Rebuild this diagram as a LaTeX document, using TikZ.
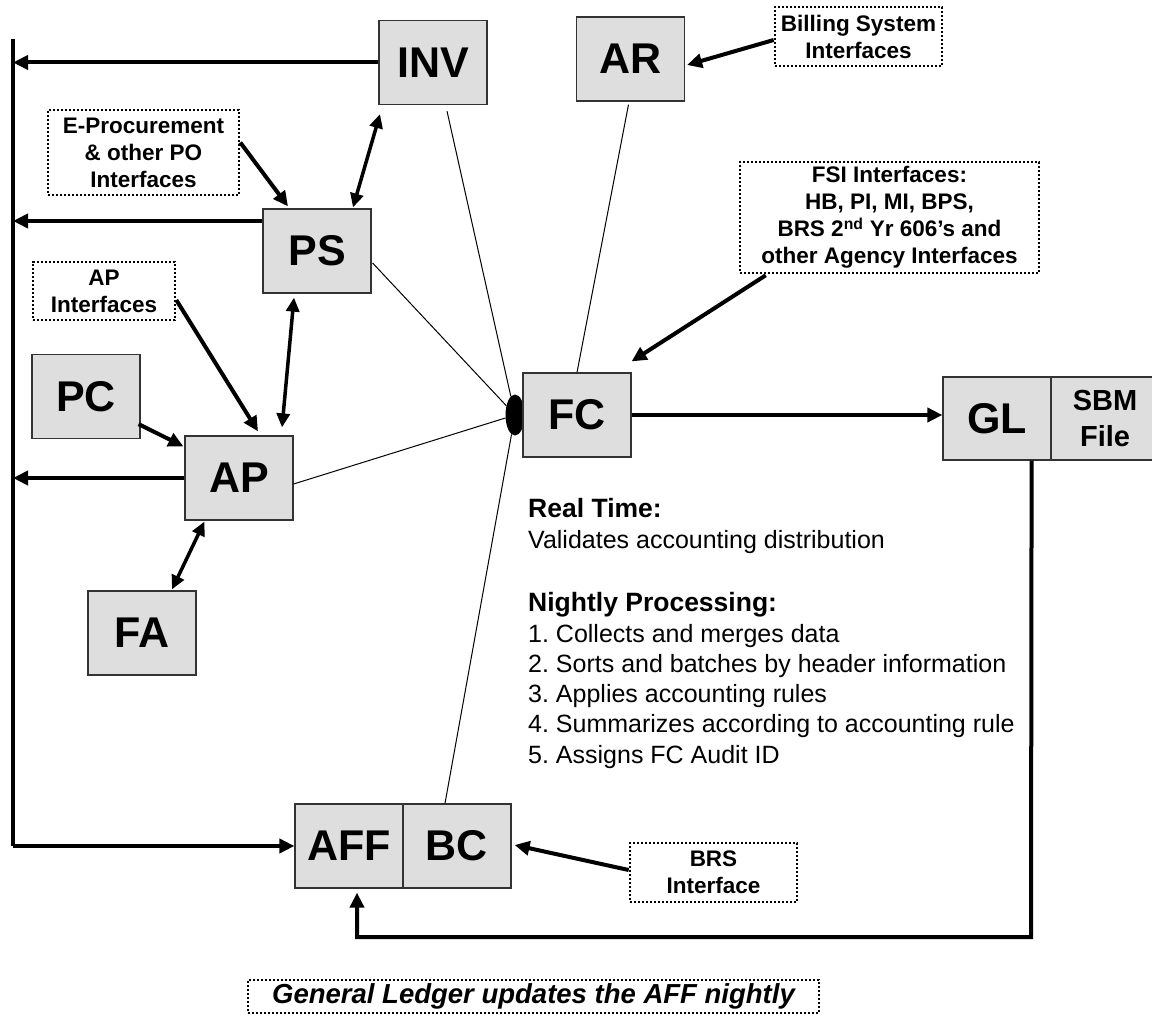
\documentclass[tikz,border=0pt]{standalone}
\usepackage{fontspec}
\setmainfont{Liberation Sans}
\usetikzlibrary{arrows.meta,calc,shapes.geometric}
\begin{document}
\frenchspacing
\begin{tikzpicture}[x=1pt,y=-1pt,
  sysbox/.style={draw=black!80, line width=1.2pt, fill=black!13, minimum width=108pt, minimum height=84pt, inner sep=0pt, font=\fontsize{43}{48}\selectfont\bfseries},
  dotbox/.style={draw=black, line width=2.6pt, dash pattern=on 2.4pt off 1.6pt, align=center, inner sep=0pt, font=\fontsize{22.5}{27}\selectfont\bfseries},
  bodytxt/.style={anchor=base west, inner sep=0pt, font=\fontsize{25}{30}\selectfont},
  headtxt/.style={anchor=base west, inner sep=0pt, font=\fontsize{26.5}{30}\selectfont\bfseries},
  thinline/.style={line width=1pt},
  arr/.style={line width=4pt, -{Triangle[length=15pt,width=14pt]}},
  darr/.style={line width=3.5pt, {Triangle[length=14pt,width=13pt]}-{Triangle[length=14pt,width=13pt]}},
  busline/.style={line width=3.5pt}
]
\useasboundingbox (0,0) rectangle (1152,1016);

% hub ellipse
\node[ellipse, fill=black, minimum width=19pt, minimum height=41pt, inner sep=0pt] (hub) at (515,415) {};

% system boxes
\node[sysbox] (INV) at (433,62.5) {INV};
\node[sysbox] (AR) at (630.5,59) {AR};
\node[sysbox] (PS) at (317,251) {PS};
\node[sysbox] (PC) at (86,396.5) {PC};
\node[sysbox] (AP) at (239,478) {AP};
\node[sysbox] (FA) at (142,633) {FA};
\node[sysbox] (FC) at (577,415) {FC};
\node[sysbox, minimum height=83pt] (GL) at (997,418.5) {GL};
\node[sysbox, minimum height=83pt, align=center, font=\fontsize{29}{36}\selectfont\bfseries] (SBM) at (1105,418.5) {SBM\\File};
\node[sysbox] (AFF) at (349,846) {AFF};
\node[sysbox] (BC) at (457,846) {BC};

% dotted interface boxes
\node[dotbox, minimum width=191pt, minimum height=85pt] (EP) at (143.5,152.5) {E-Procurement\\\& other PO\\Interfaces};
\node[dotbox, minimum width=142pt, minimum height=58pt] (API) at (104,291) {AP\\Interfaces};
\node[dotbox, minimum width=167pt, minimum height=59pt] (BILL) at (858.5,36.5) {Billing System\\Interfaces};
\node[dotbox, minimum width=299pt, minimum height=111pt] (FSI) at (889.5,217.5) {FSI Interfaces:\\HB, PI, MI, BPS,\\BRS 2\textsuperscript{nd} Yr 606’s and\\other Agency Interfaces};
\node[dotbox, minimum width=167pt, minimum height=59pt] (BRS) at (713.5,872.5) {BRS\\Interface};
\node[dotbox, minimum width=571pt, minimum height=33pt, font=\fontsize{27.5}{30}\selectfont\bfseries\itshape] (note) at (533.5,996.5) {General Ledger updates the AFF nightly};

% text block
\node[headtxt] (rt) at (528,517) {Real Time:};
\node[bodytxt] (rt1) at (528,548) {Validates accounting distribution};
\node[headtxt] (np) at (528,611) {Nightly Processing:};
\node[bodytxt] (np1) at (528,642) {1. Collects and merges data};
\node[bodytxt] (np2) at (528,672) {2. Sorts and batches by header information};
\node[bodytxt] (np3) at (528,702) {3. Applies accounting rules};
\node[bodytxt] (np4) at (528,732) {4. Summarizes according to accounting rule};
\node[bodytxt] (np5) at (528,763) {5. Assigns FC Audit ID};

% helper coordinates
\coordinate (bus) at (13,39);
\coordinate (ret) at (1031,937);
\coordinate (afftip) at ($(AFF.south)+(8,4)$);
\coordinate (psout) at ($(PS.west)+(0,-30)$);

% thin lines to the hub
\draw[thinline] ($(INV.south)+(14,6)$) -- (hub);
\draw[thinline] ($(PS.east)+(1,12)$) -- (hub);
\draw[thinline] ($(AP.east)+(0,6)$) -- (hub);
\draw[thinline] ($(BC.north)+(-12,0)$) -- (hub);
\draw[thinline] ($(AR.south)+(-2,3)$) -- (FC.north);

% bus and arrows to it
\draw[busline] (bus) -- (bus |- AFF.west);
\draw[arr] (bus |- AFF.west) -- (AFF.west);
\draw[arr] (INV.west) -- (INV.west -| bus);
\draw[arr] (psout) -- (psout -| bus);
\draw[arr] (AP.west) -- (AP.west -| bus);

% interface arrows
\draw[arr] ($(EP.east)+(0,-10)$) -- ($(PS.north)+(-29,-2)$);
\draw[arr] ($(API.east)+(0,9)$) -- ($(AP.north)+(19,-4)$);
\draw[arr] ($(PC.south east)+(-2,-15)$) -- ($(AP.north west)+(-1,11)$);
\draw[arr] ($(BILL.west)+(0,3.5)$) -- ($(AR.east)+(2,6)$);
\draw[arr] ($(FSI.south west)+(27,1)$) -- ($(FC.north east)+(0,-11)$);
\draw[arr] ($(BRS.west)+(0,-2.5)$) -- ($(BC.east)+(3,-1)$);

% double arrows
\draw[darr] ($(PS.north)+(36,-1)$) -- ($(INV.south)+(-53,9)$);
\draw[darr] ($(PS.south)+(-23,4)$) -- ($(AP.north)+(43,-8)$);
\draw[darr] ($(AP.south west)+(20,1)$) -- ($(FA.north)+(30,-1)$);

% FC to GL and return
\draw[arr] (FC.east) -- (FC.east -| GL.west);
\draw[arr] ($(GL.south east)+(-20,0)$) -- (ret) -- (ret -| afftip) -- (afftip);
\end{tikzpicture}
\end{document}
